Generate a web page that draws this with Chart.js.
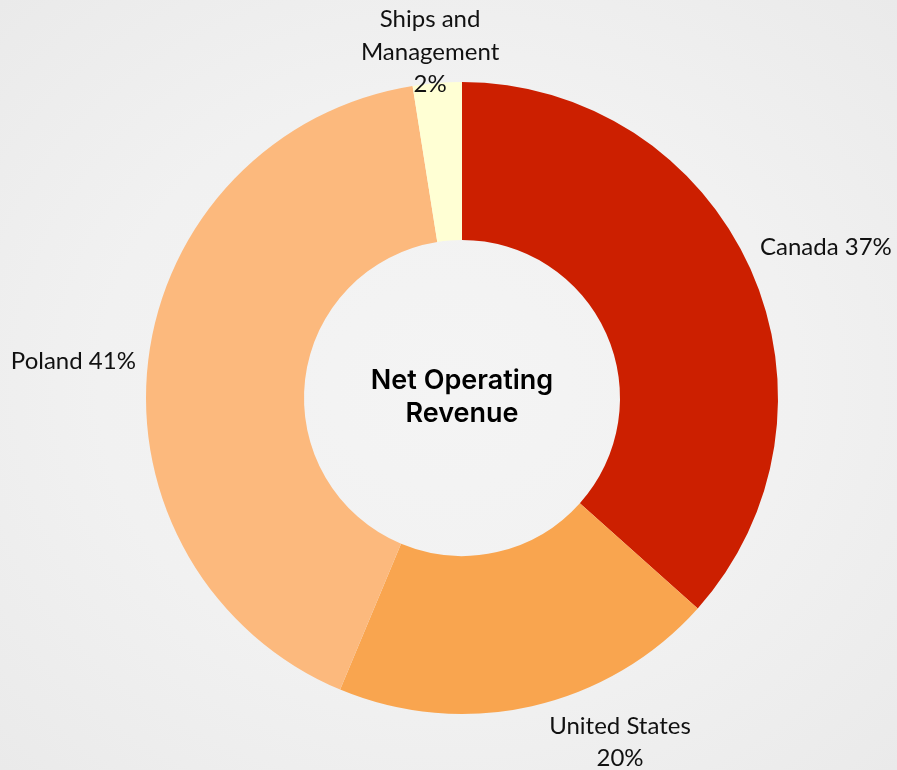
<!DOCTYPE html>
<html>
<head>
<meta charset="utf-8">
<script src="https://cdn.jsdelivr.net/npm/chart.js@4/dist/chart.umd.min.js"></script>
<style>
  html, body { margin: 0; padding: 0; }
  body {
    width: 897px; height: 770px; overflow: hidden;
    background: radial-gradient(ellipse at 50% 50%, #f4f4f4 0%, #f1f1f1 55%, #eaeaea 100%);
  }
  #wrap { width: 897px; height: 770px; position: relative; }
</style>
</head>
<body>
<div id="wrap"><canvas id="c" width="897" height="770"></canvas></div>
<script>
// ---- data ----
const categories = ["Canada", "United States", "Poland", "Ships and Management"];
const shares = [36.6, 19.7, 41.2, 2.5];           // estimated slice shares (%)
const shareLabels = ["37%", "20%", "41%", "2%"];  // printed percentages
const colors = ["#CC1F00", "#F9A54F", "#FCB97D", "#FFFFD4"];
const centerTitle = ["Net Operating", "Revenue"];

// label layout: lines, anchor relative to centre in units of outer radius, alignment
const labelLayout = [
  { lines: i => [categories[i] + " " + shareLabels[i]], dx: 0.943, dy: -0.478, align: "left" },
  { lines: i => [categories[i], shareLabels[i]], dx: 0.500, dy: 1.089, align: "center" },
  { lines: i => [categories[i] + " " + shareLabels[i]], dx: -1.032, dy: -0.117, align: "right" },
  { lines: i => ["Ships and", "Management", shareLabels[i]], dx: -0.101, dy: -1.095, align: "center" }
];

const labelPlugin = {
  id: "labels",
  afterDraw(chart) {
    const ctx = chart.ctx;
    const meta = chart.getDatasetMeta(0);
    const arc0 = meta.data[0];
    const cx = arc0.x, cy = arc0.y, R = arc0.outerRadius;
    ctx.save();
    ctx.fillStyle = "#111";
    ctx.textBaseline = "middle";
    ctx.font = "24px Lato";
    const lh = 32.5;
    labelLayout.forEach((L, i) => {
      const lines = L.lines(i);
      const x = cx + L.dx * R;
      const y0 = cy + L.dy * R - (lines.length - 1) * lh / 2;
      ctx.textAlign = L.align;
      lines.forEach((t, k) => ctx.fillText(t, x, y0 + k * lh));
    });
    // centre title
    ctx.textAlign = "center";
    ctx.fillStyle = "#000";
    ctx.font = "600 27px Inter, 'Liberation Sans', sans-serif";
    ctx.fillText(centerTitle[0], cx, cy - 17);
    ctx.fillText(centerTitle[1], cx, cy + 16);
    ctx.restore();
  }
};

new Chart(document.getElementById("c"), {
  type: "doughnut",
  data: {
    labels: categories,
    datasets: [{
      data: shares,
      backgroundColor: colors,
      borderWidth: 0,
      hoverOffset: 0,
      offset: 0
    }]
  },
  options: {
    responsive: false,
    animation: false,
    cutout: "50%",
    rotation: 0,
    layout: { padding: { left: 27, right: 0, top: 82, bottom: 56 } },
    plugins: { legend: { display: false }, tooltip: { enabled: false } }
  },
  plugins: [labelPlugin]
});
</script>
</body>
</html>
